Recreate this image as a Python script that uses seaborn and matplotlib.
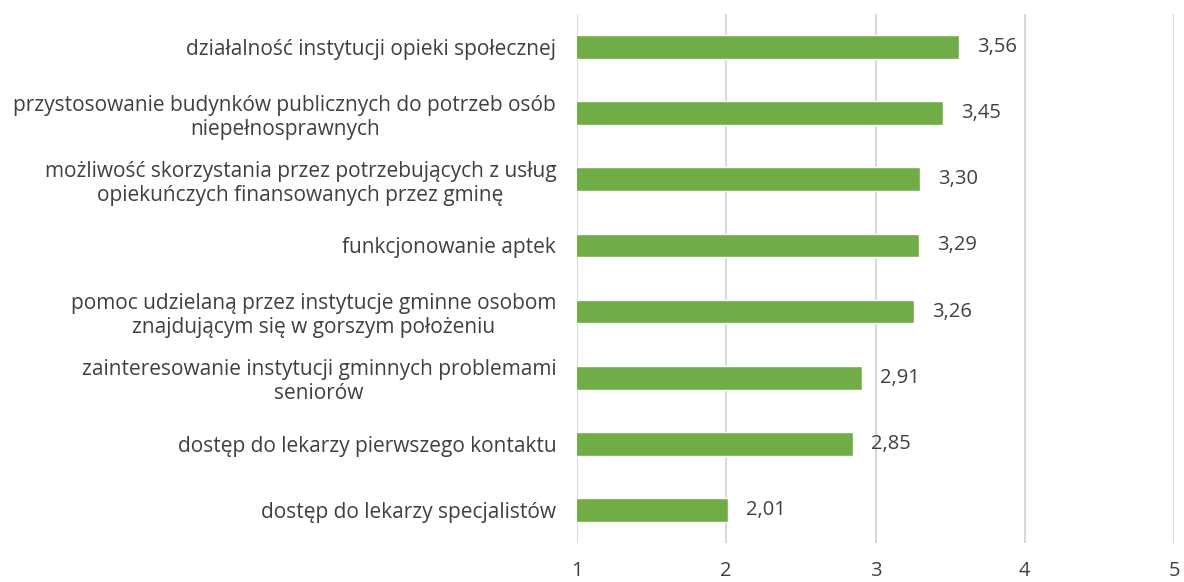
import matplotlib
matplotlib.use("Agg")
import matplotlib.pyplot as plt
import pandas as pd
import seaborn as sns

# Oceny usług (skala 1-5)
categories = [
    "działalność instytucji opieki społecznej",
    "przystosowanie budynków publicznych do potrzeb osób\nniepełnosprawnych",
    "możliwość skorzystania przez potrzebujących z usług\nopiekuńczych finansowanych przez gminę",
    "funkcjonowanie aptek",
    "pomoc udzielaną przez instytucje gminne osobom\nznajdującym się w gorszym położeniu",
    "zainteresowanie instytucji gminnych problemami\nseniorów",
    "dostęp do lekarzy pierwszego kontaktu",
    "dostęp do lekarzy specjalistów",
]
values = [3.56, 3.45, 3.30, 3.29, 3.26, 2.91, 2.85, 2.01]
x_ticks = [1, 2, 3, 4, 5]

BAR_COLOR = "#70AD47"
TEXT_COLOR = "#404040"
GRID_COLOR = "#D9D9D9"


def main() -> None:
    sns.set_theme(style="white")
    plt.rcParams["font.family"] = ["Open Sans", "DejaVu Sans"]

    df = pd.DataFrame({"category": categories, "value": values})

    fig = plt.figure(figsize=(11.84, 5.82), dpi=100)
    ax = fig.add_axes([0.4873, 0.067, 0.5043, 0.909])

    sns.barplot(data=df, x="value", y="category", orient="h",
                color=BAR_COLOR, saturation=1, width=0.36, ax=ax, zorder=3)

    ax.set_xlim(1, 5)
    ax.set_ylim(len(categories) - 0.5, -0.5)
    ax.set_xticks(x_ticks)
    ax.set_xticklabels([str(t) for t in x_ticks], fontsize=14.5, color=TEXT_COLOR)
    ax.tick_params(axis="x", length=0, pad=13)
    ax.tick_params(axis="y", length=0, pad=15)
    for lbl in ax.get_yticklabels():
        lbl.set_fontsize(15)
        lbl.set_color(TEXT_COLOR)
        lbl.set_multialignment("center")
        lbl.set_linespacing(1.2)

    ax.xaxis.grid(True, color=GRID_COLOR, linewidth=1.5, zorder=0)
    ax.set_axisbelow(True)
    for side in ["top", "right", "bottom", "left"]:
        ax.spines[side].set_visible(False)
    ax.set_xlabel("")
    ax.set_ylabel("")

    labels = [f"{v:.2f}".replace(".", ",") for v in values]
    ax.bar_label(ax.containers[0], labels=labels, padding=13,
                 fontsize=14.5, color=TEXT_COLOR)

    fig.savefig("out.png", dpi=100)
    plt.close(fig)


if __name__ == "__main__":
    main()
